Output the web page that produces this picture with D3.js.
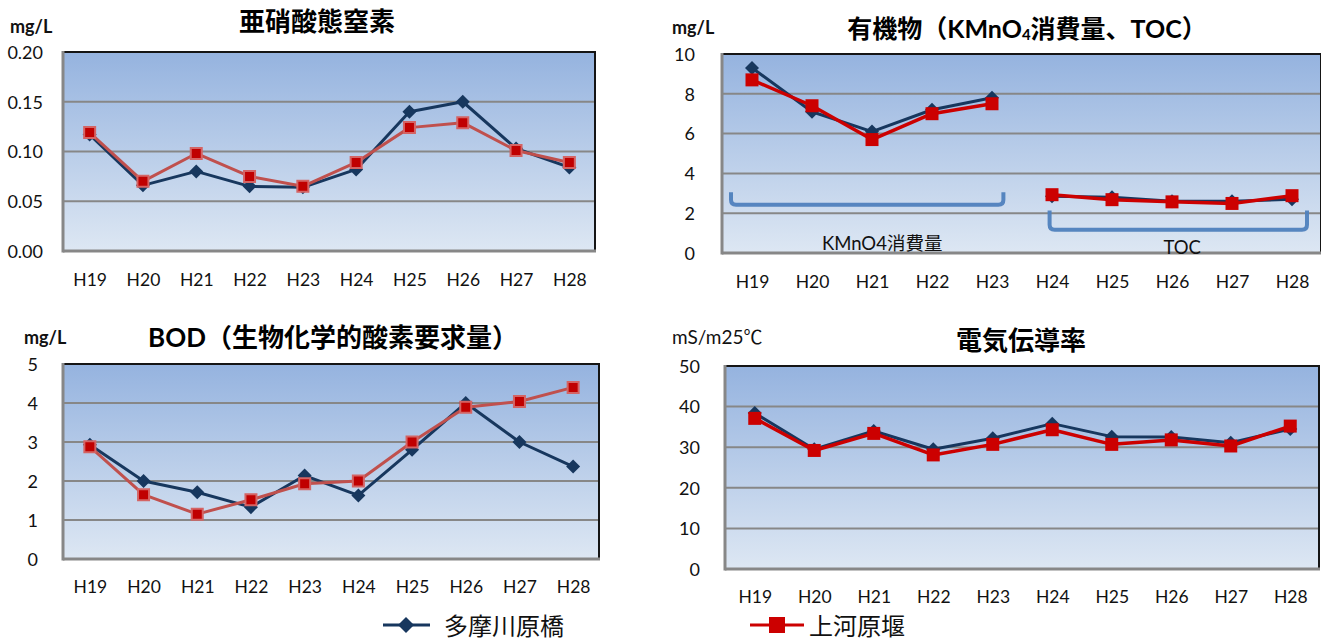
<!DOCTYPE html>
<html><head><meta charset="utf-8">
<script src="https://cdn.jsdelivr.net/npm/d3@7"></script>
<style>
body{margin:0;background:#fff;}
svg{display:block;font-family:Lato,"Noto Sans CJK JP",sans-serif;}
</style></head><body>
<svg id="c" width="1321" height="638"></svg>
<script>
// ---------- data ----------
const years = ["H19","H20","H21","H22","H23","H24","H25","H26","H27","H28"];
const seriesNames = ["多摩川原橋","上河原堰"];
const kmno4Years = ["H19","H20","H21","H22","H23"];
const tocYears = ["H24","H25","H26","H27","H28"];

// 亜硝酸態窒素 (mg/L)
const nitriteTama = [0.117,0.066,0.080,0.065,0.064,0.082,0.140,0.150,0.103,0.084];
const nitriteKami = [0.119,0.070,0.098,0.075,0.065,0.089,0.124,0.129,0.101,0.089];
// 有機物 (mg/L)
const kmno4Tama = [9.3,7.1,6.1,7.2,7.8];
const kmno4Kami = [8.7,7.4,5.7,7.0,7.5];
const tocTama = [2.85,2.8,2.6,2.6,2.7];
const tocKami = [2.93,2.68,2.57,2.49,2.88];
// BOD (mg/L)
const bodTama = [2.93,2.0,1.71,1.33,2.14,1.63,2.8,4.0,3.0,2.37];
const bodKami = [2.88,1.65,1.15,1.52,1.93,2.0,3.0,3.89,4.04,4.40];
// 電気伝導率 (mS/m25℃)
const condTama = [38.4,29.5,34.0,29.5,32.2,35.8,32.6,32.5,31.1,34.5];
const condKami = [37.1,29.2,33.4,28.1,30.7,34.3,30.7,31.8,30.3,35.2];

// tick values
const nitriteTicks = [0,0.05,0.10,0.15,0.20];
const organicTicks = [0,2,4,6,8,10];
const bodTicks = [0,1,2,3,4,5];
const condTicks = [0,10,20,30,40,50];

const titles = ["亜硝酸態窒素","有機物（KMnO","4","消費量、TOC）","BOD（生物化学的酸素要求量）","電気伝導率"];
const units = ["mg/L","mg/L","mg/L","mS/m25℃"];
const bracketLabels = ["KMnO4消費量","TOC"];

// ---------- styles ----------
const BLUE = "#17375e";
const styleA = {
  blue:{line:BLUE, width:3, marker:"diamond", r:7},
  red:{line:"#c0504d", width:3, marker:"square", side:11, fill:"#c00000", stroke:"#d46464", sw:2}
};
const styleB = {
  blue:{line:BLUE, width:3, marker:"diamond", r:7},
  red:{line:"#cc0000", width:3.5, marker:"square", side:13, fill:"#cc0000", stroke:"none", sw:0}
};

const svg = d3.select("#c");
const defs = svg.append("defs");
const grad = defs.append("linearGradient").attr("id","bg").attr("x1",0).attr("y1",0).attr("x2",0).attr("y2",1);
grad.append("stop").attr("offset","0%").attr("stop-color","#95b3df");
grad.append("stop").attr("offset","100%").attr("stop-color","#dde7f3");

function diamondPath(r){ return `M0,${-r}L${r},0L0,${r}L${-r},0Z`; }

function drawSeries(g, x, y, yrs, vals, st){
  const pts = yrs.map((d,i)=>({k:d, v:vals[i]}));
  const line = d3.line().x(d=>x(d.k)).y(d=>y(d.v));
  g.append("path").datum(pts).attr("d",line).attr("fill","none")
    .attr("stroke",st.line).attr("stroke-width",st.width).attr("stroke-linejoin","round");
  const m = g.selectAll(null).data(pts).enter().append("path")
    .attr("transform",d=>`translate(${x(d.k)},${y(d.v)})`);
  if(st.marker==="diamond"){
    m.attr("d",diamondPath(st.r)).attr("fill",st.line);
  } else {
    const s = st.side/2;
    m.attr("d",`M${-s},${-s}H${s}V${s}H${-s}Z`).attr("fill",st.fill)
     .attr("stroke",st.stroke).attr("stroke-width",st.sw);
  }
}

function panel(cfg){
  const g = svg.append("g");
  const x = d3.scalePoint().domain(years).range([cfg.left,cfg.right]).padding(0.5);
  const y = d3.scaleLinear().domain([0,cfg.ticks[cfg.ticks.length-1]]).range([cfg.bottom,cfg.top]);
  g.append("rect").attr("x",cfg.left).attr("y",cfg.top).attr("width",cfg.right-cfg.left)
    .attr("height",cfg.bottom-cfg.top).attr("fill","url(#bg)");
  g.selectAll(null).data(cfg.ticks.slice(1,-1)).enter().append("line")
    .attr("x1",cfg.left).attr("x2",cfg.right).attr("y1",d=>y(d)).attr("y2",d=>y(d))
    .attr("stroke","#878787").attr("stroke-width",2);
  // borders
  g.append("line").attr("x1",cfg.left).attr("x2",cfg.right).attr("y1",cfg.top).attr("y2",cfg.top)
    .attr("stroke","#151515").attr("stroke-width",2);
  g.append("line").attr("x1",cfg.right-1).attr("x2",cfg.right-1).attr("y1",cfg.top).attr("y2",cfg.bottom)
    .attr("stroke","#151515").attr("stroke-width",2);
  g.append("line").attr("x1",cfg.left).attr("x2",cfg.right).attr("y1",cfg.bottom).attr("y2",cfg.bottom)
    .attr("stroke","#878787").attr("stroke-width",3);
  g.append("line").attr("x1",cfg.left).attr("x2",cfg.left).attr("y1",cfg.top-1).attr("y2",cfg.bottom+1.5)
    .attr("stroke","#878787").attr("stroke-width",3);

  // axes
  const ya = g.append("g").attr("transform",`translate(${cfg.left},0)`)
    .call(d3.axisLeft(y).tickValues(cfg.ticks).tickFormat(cfg.fmt).tickSize(0).tickPadding(cfg.yGap));
  ya.select(".domain").remove();
  ya.attr("font-family",null).attr("font-size",null);
  ya.selectAll("text").attr("font-size",18).attr("fill","#111").attr("dy","0.35em");
  const xa = g.append("g").attr("transform",`translate(0,${cfg.bottom})`)
    .call(d3.axisBottom(x).tickSize(0));
  xa.select(".domain").remove();
  xa.attr("font-family",null).attr("font-size",null);
  xa.selectAll("text").attr("font-size",17.5).attr("fill","#111").attr("y",cfg.xDy).attr("dy","0.35em");

  if(cfg.extra) cfg.extra(g,x,y);
  cfg.series.forEach(s=>drawSeries(g,x,y,s.yrs,s.vals,s.st));

  // title
  const t = svg.append("text").attr("x",cfg.titleX).attr("y",cfg.titleY).attr("text-anchor","middle")
    .attr("dominant-baseline","central").attr("font-weight","bold").attr("font-size",cfg.titleSize||26).attr("fill","#000");
  cfg.title(t);
  svg.append("text").attr("x",cfg.unitX).attr("y",cfg.unitY).attr("dominant-baseline","central")
    .attr("font-weight",cfg.unitBold?"bold":"normal").attr("font-size",cfg.unitBold?18:19).attr("fill","#111")
    .text(cfg.unit);
}

// 亜硝酸態窒素
panel({left:63,right:596,top:52,bottom:251,ticks:nitriteTicks,fmt:d3.format(".2f"),yGap:20,xDy:29,
  title:t=>t.text(titles[0]),titleX:317,titleY:21,unit:units[0],unitX:10,unitY:26,unitBold:true,
  series:[{yrs:years,vals:nitriteTama,st:styleA.blue},{yrs:years,vals:nitriteKami,st:styleA.red}]});

// 有機物
panel({left:722,right:1322,top:54,bottom:253,ticks:organicTicks,fmt:d3.format("d"),yGap:27,xDy:29,titleSize:25,
  title:t=>{t.append("tspan").text(titles[1]);
            t.append("tspan").attr("font-size",15).attr("dy",6).text(titles[2]);
            t.append("tspan").attr("dy",-6).text(titles[3]);},
  titleX:1027,titleY:28,unit:units[1],unitX:672,unitY:27,unitBold:true,
  extra:(g,x,y)=>{
    const step = x.step();
    const br = (x0,x1,yTop,yBot)=>{
      const r=5;
      return `M${x0},${yTop}V${yBot-r}Q${x0},${yBot} ${x0+r},${yBot}H${x1-r}Q${x1},${yBot} ${x1},${yBot-r}V${yTop}`;
    };
    const b1 = [x("H19")-0.35*step, x("H23")+0.19*step, y(3.05), y(2.42)];
    const b2 = [x("H24")-0.04*step, x("H28")+0.25*step, y(2.14), y(1.17)];
    [b1,b2].forEach(b=>g.append("path").attr("d",br(b[0],b[1],b[2],b[3]))
      .attr("fill","none").attr("stroke","#4f81bd").attr("stroke-width",4).attr("stroke-opacity",0.95));
    g.append("text").attr("x",x("H21")+0.17*step).attr("y",y(0.15)).attr("text-anchor","middle")
      .attr("font-size",18.5).attr("fill","#111").text(bracketLabels[0]);
    g.append("text").attr("x",x("H26")+0.17*step).attr("y",y(-0.05)).attr("text-anchor","middle")
      .attr("font-size",18.5).attr("fill","#111").text(bracketLabels[1]);
  },
  series:[{yrs:kmno4Years,vals:kmno4Tama,st:styleB.blue},{yrs:tocYears,vals:tocTama,st:styleB.blue},
          {yrs:kmno4Years,vals:kmno4Kami,st:styleB.red},{yrs:tocYears,vals:tocKami,st:styleB.red}]});

// BOD
panel({left:63,right:600,top:364,bottom:559,ticks:bodTicks,fmt:d3.format("d"),yGap:25,xDy:27.5,
  title:t=>t.text(titles[4]),titleX:333,titleY:337,unit:units[2],unitX:24,unitY:337,unitBold:true,
  series:[{yrs:years,vals:bodTama,st:styleA.blue},{yrs:years,vals:bodKami,st:styleA.red}]});

// 電気伝導率
panel({left:725,right:1320,top:366,bottom:569,ticks:condTicks,fmt:d3.format("d"),yGap:25,xDy:27.5,
  title:t=>t.text(titles[5]),titleX:1021,titleY:340,unit:units[3],unitX:672,unitY:336,unitBold:false,
  series:[{yrs:years,vals:condTama,st:styleB.blue},{yrs:years,vals:condKami,st:styleB.red}]});

// legend
const lg = svg.append("g");
const legendItems = [
  {name:seriesNames[0], x0:383, x1:430, cx:406, tx:444, st:styleB.blue},
  {name:seriesNames[1], x0:750, x1:804, cx:777, tx:809, st:styleB.red}
];
const LY = 625;
legendItems.forEach(it=>{
  lg.append("line").attr("x1",it.x0).attr("x2",it.x1).attr("y1",LY).attr("y2",LY)
    .attr("stroke",it.st.line).attr("stroke-width",3);
  if(it.st.marker==="diamond"){
    lg.append("path").attr("transform",`translate(${it.cx},${LY})`).attr("d",diamondPath(8)).attr("fill",it.st.line);
  } else {
    lg.append("rect").attr("x",it.cx-8).attr("y",LY-8).attr("width",16).attr("height",16).attr("fill",it.st.fill);
  }
  lg.append("text").attr("x",it.tx).attr("y",LY).attr("dominant-baseline","central")
    .attr("font-size",24).attr("fill","#111").text(it.name);
});
</script>
</body></html>
